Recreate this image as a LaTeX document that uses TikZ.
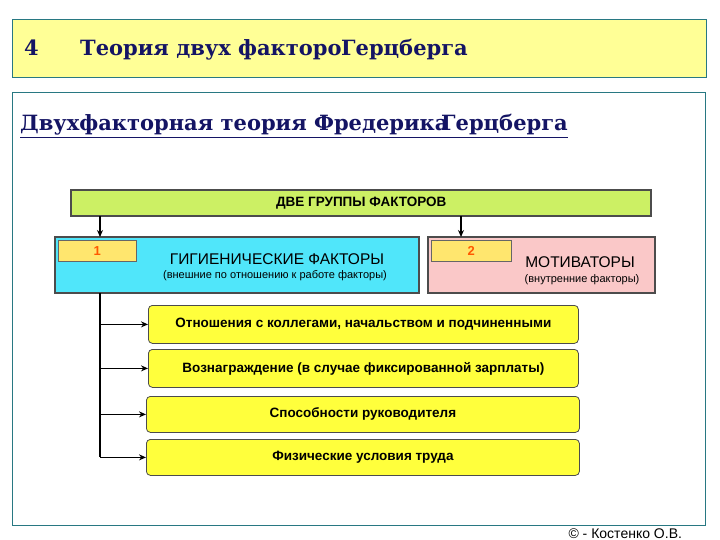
\documentclass[tikz,border=0pt]{standalone}
\usepackage{fontspec}
\setmainfont{DejaVu Serif}
\setsansfont{Liberation Sans}
\usetikzlibrary{arrows.meta}
\definecolor{navy}{RGB}{20,20,100}
\definecolor{frame}{RGB}{40,120,130}
\definecolor{band}{RGB}{255,255,150}
\definecolor{lime}{RGB}{204,240,100}
\definecolor{cyanb}{RGB}{80,230,250}
\definecolor{pinkb}{RGB}{250,200,200}
\definecolor{ylab}{RGB}{255,230,110}
\definecolor{ybox}{RGB}{255,255,60}
\begin{document}
\begin{tikzpicture}[x=1pt,y=-1pt,
  ttl/.style={font=\bfseries\fontsize{21}{24}\selectfont, text=navy, anchor=base west, inner sep=0},
  lbl/.style={draw=black!60, fill=ylab, font=\sffamily\bfseries\fontsize{13}{14}\selectfont, text=orange!70!red},
  ybx/.style={draw=black!70, fill=ybox, rounded corners=4pt, line width=0.8pt, font=\sffamily\bfseries\fontsize{13.5}{15}\selectfont},
  arr/.style={-{Stealth[length=7pt,width=6pt]}, line width=1.2pt}]
\useasboundingbox (0,0) rectangle (720,540);
\fill[white] (0,0) rectangle (720,540);
% top band
\node[draw=frame, fill=band, minimum width=694, minimum height=58, anchor=north west, inner sep=0] (band) at (12,19) {};
\node[ttl] (n4) at (24,56) {4};
\node[ttl] (t1) at (80,56) {Теория двух факторо};
\node[ttl] (t2) at (341,56) {Герцберга};
% content frame
\draw[frame, line width=0.8pt] (12,92) rectangle (705,525);
\node[ttl, font=\bfseries\fontsize{21}{24}\selectfont] (s1) at (20,131) {\underline{Двухфакторная теория Фредерика}};
\node[ttl, font=\bfseries\fontsize{21}{24}\selectfont] (s2) at (441,131) {\underline{Герцберга}};
% groups
\node[draw=black!70, double=black!70, double distance=1.2pt, fill=lime, minimum width=580, minimum height=26, anchor=north west, font=\sffamily\bfseries\fontsize{13.5}{14}\selectfont] (grp) at (71,190) {ДВЕ ГРУППЫ ФАКТОРОВ};
\node[draw=black!70, double=black!70, double distance=1pt, fill=cyanb, minimum width=364, minimum height=56, anchor=north west] (b1) at (55,237) {};
\node[lbl, minimum width=78, minimum height=21, anchor=north west] (l1) at (58,240) {1};
\node[font=\sffamily\fontsize{15.5}{17}\selectfont] (h1) at (277,259) {ГИГИЕНИЧЕСКИЕ ФАКТОРЫ};
\node[font=\sffamily\fontsize{11}{12}\selectfont] (h1s) at (275,276) {(внешние по отношению к работе факторы)};
\node[draw=black!70, double=black!70, double distance=1pt, fill=pinkb, minimum width=227, minimum height=56, anchor=north west] (b2) at (428,237) {};
\node[lbl, minimum width=80, minimum height=21, anchor=north west] (l2) at (431,240) {2};
\node[font=\sffamily\fontsize{15.5}{17}\selectfont] (h2) at (580,262) {МОТИВАТОРЫ};
\node[font=\sffamily\fontsize{11}{12}\selectfont] (h2s) at (582,280) {(внутренние факторы)};
\draw[arr] (grp.south -| 100,0) -- (b1.north -| 100,0);
\draw[arr] (grp.south -| 461,0) -- (b2.north -| 461,0);
% list
\node[ybx, minimum width=430, minimum height=38, anchor=north west] (y1) at (148,305) {Отношения с коллегами, начальством и подчиненными};
\node[ybx, minimum width=430, minimum height=38, anchor=north west] (y2) at (148,349) {Вознаграждение (в случае фиксированной зарплаты)};
\node[ybx, minimum width=433, minimum height=36, anchor=north west] (y3) at (146,396) {Способности руководителя};
\node[ybx, minimum width=433, minimum height=36, anchor=north west] (y4) at (146,439) {Физические условия труда};
\coordinate (v0) at (100,293);
\coordinate (v4) at (100,457);
\draw[line width=1.2pt] (v0) -- (v4);
\foreach \n in {y1,y2,y3,y4} \draw[arr] (\n.west -| v0) -- (\n.west);
\node[font=\sffamily\fontsize{14}{15}\selectfont, anchor=base west] (cp) at (565,538) {© - Костенко О.В.};
\end{tikzpicture}
\end{document}
